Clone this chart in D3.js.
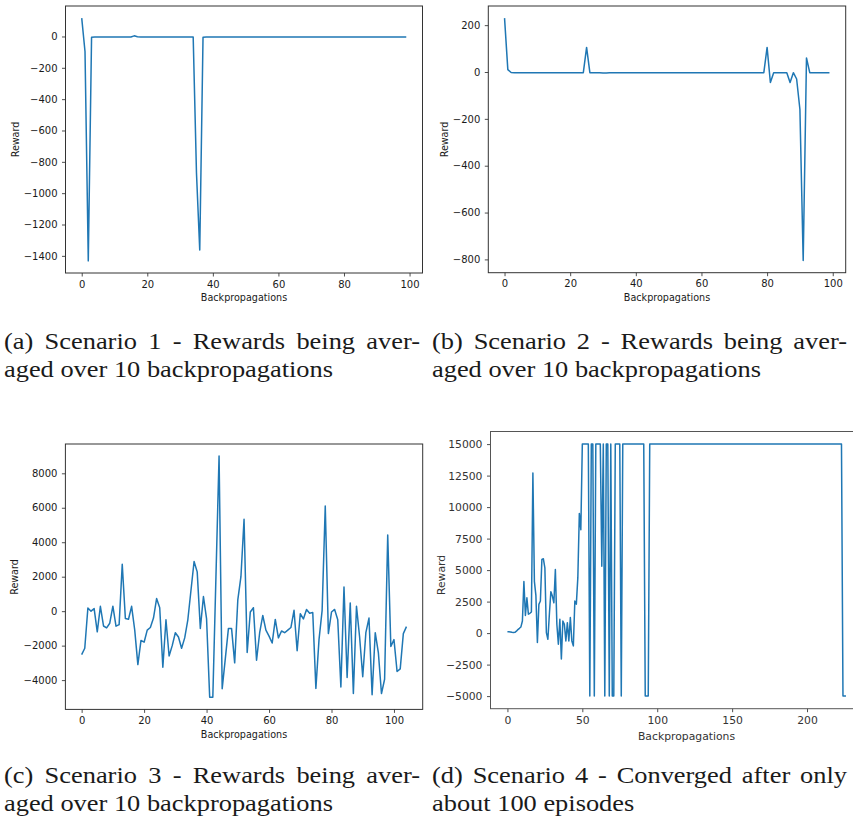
<!DOCTYPE html>
<html>
<head>
<meta charset="utf-8">
<script src="https://cdn.jsdelivr.net/npm/d3@7"></script>
<style>
  body { margin: 0; background: #ffffff; }
  svg { display: block; }
</style>
</head>
<body>
<svg id="fig" width="853" height="820"></svg>
<script>
// ── Data: reward per backpropagation (index = x) ─────────────────────────────
const rewardsA = [
  117, -96, -1432, -5, -4, -4, -4, -3, -4, -4,
  -3, -4, -4, -4, -4, -3, 4, -2, -4, -4,
  -4, -4, -4, -4, -4, -4, -4, -4, -4, -4,
  -4, -4, -4, -4, -4, -870, -1362, -5, -4, -4,
  -4, -4, -4, -4, -4, -4, -4, -4, -4, -4,
  -4, -4, -3, -4, -4, -4, -4, -4, -4, -4,
  -4, -4, -4, -4, -4, -4, -4, -4, -4, -4,
  -4, -4, -4, -4, -4, -4, -4, -4, -4, -4,
  -4, -4, -4, -4, -4, -4, -3, -4, -4, -4,
  -4, -4, -4, -4, -4, -4, -4, -4, -4, -4
];

const rewardsB = [
  230, 10, -2, -3, -3, -3, -3, -3, -3, -3,
  -3, -3, -3, -3, -3, -3, -3, -3, -3, -3,
  -3, -3, -3, -3, -3, 105, -3, -3, -3, -3,
  -4, -4, -3, -3, -3, -3, -3, -3, -3, -3,
  -3, -3, -3, -3, -3, -3, -3, -3, -3, -3,
  -3, -3, -3, -3, -3, -3, -3, -3, -3, -3,
  -3, -3, -3, -3, -3, -3, -3, -3, -3, -3,
  -3, -3, -3, -3, -3, -3, -3, -3, -3, -3,
  105, -45, -3, -3, -3, -3, -3, -45, -3, -30,
  -160, -805, 60, -3, -3, -3, -3, -3, -3, -3
];

const rewardsC = [
  -2520, -2150, 180, 0, 150, -1200, 280, -860, -970, -700,
  290, -870, -780, 2720, -430, -470, 280, -1100, -3100, -1700,
  -1800, -1100, -950, -400, 730, 200, -3250, -500, -2600, -2000,
  -1250, -1500, -2150, -1550, -500, 1200, 2880, 2280, -1000, 850,
  -450, -5000, -5000, 2000, 9000, -4500, -2750, -1000, -1000, -3000,
  650, 2000, 5330, -2400, -50, 200, -2850, -1250, -250, -1100,
  -1450, -1850, -480, -1550, -1150, -1250, -1100, -950, 50, -2300,
  -150, -450, 100, -120, -80, -4480, -1650, 50, 6100, -1300,
  -50, 100, -500, -4400, 1400, -3850, 480, -4780, 280, -1500,
  -3800, -1250, -400, -4850, -1250, -2400, -4780, -3950, 4420, -2050,
  -1650, -3500, -3350, -1300, -900
];

const rewardsD = [
  100, 100, 90, 60, 40, 60, 150, 280, 380, 490,
  960, 4100, 1400, 2800, 1500, 1570, 1680, 12700, 4100, 3000,
  -750, 2280, 2550, 5840, 5900, 5180, 40, -490, 1490, 3290,
  2940, 2410, 5050, 700, -880, 1100, -2050, 960, 700, -620,
  830, -620, 1230, -620, -1015, 2550, 2300, 4400, 9500, 8200,
  15000, 15000, 15000, 15000, 15000, -5000, 15000, 15000, -5000, 15000,
  15000, 15000, 15000, 5300, 15000, -5000, 15000, 15000, -5000, 15000,
  -5000, -5000, 15000, 15000, 15000, 15000, -5000, 15000, 15000, 15000,
  15000, 15000, 15000, 15000, 15000, 15000, 15000, 15000, 15000, 15000,
  15000, 15000, -5000, -5000, -5000, 15000, 15000, 15000, 15000, 15000,
  // 100 – 219
  15000, 15000, 15000, 15000, 15000, 15000, 15000, 15000, 15000, 15000,
  15000, 15000, 15000, 15000, 15000, 15000, 15000, 15000, 15000, 15000,
  15000, 15000, 15000, 15000, 15000, 15000, 15000, 15000, 15000, 15000,
  15000, 15000, 15000, 15000, 15000, 15000, 15000, 15000, 15000, 15000,
  15000, 15000, 15000, 15000, 15000, 15000, 15000, 15000, 15000, 15000,
  15000, 15000, 15000, 15000, 15000, 15000, 15000, 15000, 15000, 15000,
  15000, 15000, 15000, 15000, 15000, 15000, 15000, 15000, 15000, 15000,
  15000, 15000, 15000, 15000, 15000, 15000, 15000, 15000, 15000, 15000,
  15000, 15000, 15000, 15000, 15000, 15000, 15000, 15000, 15000, 15000,
  15000, 15000, 15000, 15000, 15000, 15000, 15000, 15000, 15000, 15000,
  15000, 15000, 15000, 15000, 15000, 15000, 15000, 15000, 15000, 15000,
  15000, 15000, 15000, 15000, 15000, 15000, 15000, 15000, 15000, 15000,
  // 220 – 226
  15000, 15000, 15000, 15000, -5000, -5000, -5000
];

// ── Tick labels ──────────────────────────────────────────────────────────────
const xTicks100 = [0, 20, 40, 60, 80, 100];
const xTicksD   = [0, 50, 100, 150, 200];
const yTicksA   = [0, -200, -400, -600, -800, -1000, -1200, -1400];
const yTicksB   = [200, 0, -200, -400, -600, -800];
const yTicksC   = [-4000, -2000, 0, 2000, 4000, 6000, 8000];
const yTicksD   = [-5000, -2500, 0, 2500, 5000, 7500, 10000, 12500, 15000];

// ── Captions ─────────────────────────────────────────────────────────────────
const captionA = ['(a) Scenario 1 - Rewards being aver-', 'aged over 10 backpropagations'];
const captionB = ['(b) Scenario 2 - Rewards being aver-', 'aged over 10 backpropagations'];
const captionC = ['(c) Scenario 3 - Rewards being aver-', 'aged over 10 backpropagations'];
const captionD = ['(d) Scenario 4 - Converged after only', 'about 100 episodes'];

const svg = d3.select('#fig');
const SANS = '"DejaVu Sans", sans-serif';
// matplotlib writes negatives with a real minus sign
const tickFmt = d => (d < 0 ? '\u2212' + Math.abs(d) : String(d));

// ── One matplotlib-style panel ───────────────────────────────────────────────
function drawPanel(p) {
  const [x0, y0, x1, y1] = p.box;
  const n = p.values.length;
  const xPad = (n - 1) * 0.05;
  const x = d3.scaleLinear().domain([-xPad, n - 1 + xPad]).range([x0, x1]);
  const [lo, hi] = d3.extent(p.values);
  const yPad = (hi - lo) * 0.05;
  const y = d3.scaleLinear().domain([lo - yPad, hi + yPad]).range([y1, y0]);

  const g = svg.append('g');

  g.append('path')
    .datum(p.values)
    .attr('fill', 'none')
    .attr('stroke', '#1f77b4')
    .attr('stroke-width', 1.5)
    .attr('stroke-linejoin', 'round')
    .attr('d', d3.line().x((d, i) => x(i)).y(d => y(d)));

  const xAxis = g.append('g')
    .attr('transform', `translate(0,${y1})`)
    .call(d3.axisBottom(x).tickValues(p.xTicks).tickSize(3.5).tickPadding(4).tickFormat(tickFmt));
  const yAxis = g.append('g')
    .attr('transform', `translate(${x0},0)`)
    .call(d3.axisLeft(y).tickValues(p.yTicks).tickSize(3.5).tickPadding(4.5).tickFormat(tickFmt));

  [xAxis, yAxis].forEach(ax => {
    ax.select('.domain').remove();
    ax.selectAll('line').attr('stroke', '#222').attr('stroke-width', 0.8);
    ax.selectAll('text')
      .attr('font-family', SANS)
      .attr('font-size', p.tickFont)
      .attr('fill', p.textColor);
  });

  // spines
  g.append('rect')
    .attr('x', x0).attr('y', y0)
    .attr('width', x1 - x0).attr('height', y1 - y0)
    .attr('fill', 'none')
    .attr('stroke', p.spine)
    .attr('stroke-width', 1);

  g.append('text')
    .attr('transform', `translate(${p.xLabel[0]},${p.xLabel[1]})`)
    .attr('text-anchor', 'middle')
    .attr('dy', '0.35em')
    .attr('font-family', SANS)
    .attr('font-size', p.font)
    .attr('fill', p.textColor)
    .text('Backpropagations');

  g.append('text')
    .attr('transform', `translate(${p.yLabel[0]},${p.yLabel[1]}) rotate(-90)`)
    .attr('text-anchor', 'middle')
    .attr('dy', '0.35em')
    .attr('font-family', SANS)
    .attr('font-size', p.font)
    .attr('fill', p.textColor)
    .text('Reward');
}

// ── LaTeX-like justified caption ─────────────────────────────────────────────
function addCaption(lines, left, right, baseline) {
  const sx = 1.1;
  const lead = 28.5;
  const g = svg.append('g')
    .attr('transform', `translate(${left},0) scale(${sx},1)`)
    .attr('font-family', 'Liberation Serif')
    .attr('font-size', 24)
    .attr('fill', '#1a1a1a');

  lines.forEach((line, k) => {
    const t = g.append('text')
      .attr('x', 0)
      .attr('y', baseline + k * lead)
      .text(line);
    if (k === 0) {
      const natural = t.node().getComputedTextLength();
      const gaps = line.split(' ').length - 1;
      t.attr('word-spacing', ((right - left) / sx - natural) / gaps);
    }
  });
}

// ── Layout ───────────────────────────────────────────────────────────────────
const panels = [
  { values: rewardsA, xTicks: xTicks100, yTicks: yTicksA, box: [65.5, 6, 422.5, 273],
    xLabel: [244, 297.5], yLabel: [15.5, 139.5], font: 9.6, tickFont: 10, textColor: '#1a1a1a', spine: '#333' },
  { values: rewardsB, xTicks: xTicks100, yTicks: yTicksB, box: [488.3, 6, 845.7, 272.7],
    xLabel: [667, 297.5], yLabel: [445, 139.5], font: 9.6, tickFont: 10, textColor: '#1a1a1a', spine: '#333' },
  { values: rewardsC, xTicks: xTicks100, yTicks: yTicksC, box: [65.4, 444, 422.7, 709.4],
    xLabel: [244, 735], yLabel: [15, 577], font: 9.6, tickFont: 10, textColor: '#1a1a1a', spine: '#333' },
  { values: rewardsD, xTicks: xTicksD, yTicks: yTicksD, box: [490.5, 431.5, 862.9, 708.7],
    xLabel: [686.5, 736.5], yLabel: [441, 575], font: 10.8, tickFont: 10.8, textColor: '#333', spine: '#555' }
];

panels.forEach(drawPanel);

addCaption(captionA, 4, 420, 349);
addCaption(captionB, 432, 847, 349);
addCaption(captionC, 4, 420, 783);
addCaption(captionD, 432, 847, 783);
</script>
</body>
</html>
